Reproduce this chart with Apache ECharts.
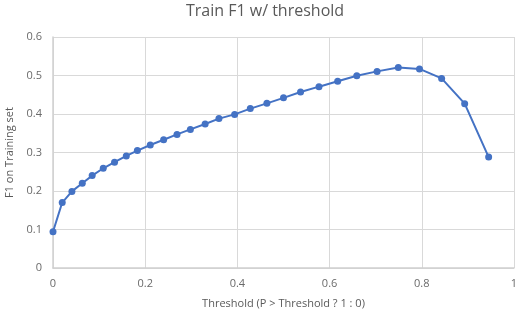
<!DOCTYPE html>
<html><head><meta charset="utf-8">
<script src="https://cdn.jsdelivr.net/npm/echarts@6/dist/echarts.min.js"></script>
<style>html,body{margin:0;padding:0;background:#fff}#c{width:516px;height:312px}</style>
</head><body><div id="c"></div>
<script>
const thresholds = [0, 0.02, 0.041, 0.0635, 0.085, 0.109, 0.1335, 0.159, 0.183, 0.211, 0.24, 0.269, 0.298, 0.33, 0.36, 0.394, 0.428, 0.464, 0.5, 0.537, 0.577, 0.6175, 0.659, 0.703, 0.749, 0.795, 0.843, 0.893, 0.945];
const f1Values = [0.094, 0.170, 0.199, 0.220, 0.240, 0.259, 0.275, 0.291, 0.305, 0.3195, 0.333, 0.347, 0.360, 0.374, 0.388, 0.399, 0.414, 0.4276, 0.442, 0.457, 0.471, 0.485, 0.4995, 0.5107, 0.521, 0.517, 0.4925, 0.4268, 0.288];
const titleText = 'Train F1 w/ threshold';
const xName = 'Threshold (P > Threshold ? 1 : 0)';
const yName = 'F1 on Training set';

const chart = echarts.init(document.getElementById('c'), null, {renderer:'canvas'});
const font = '"Open Sans", "DejaVu Sans", sans-serif';
chart.setOption({
  animation:false,
  title:{text:titleText,left:260,textAlign:'center',top:-2,textStyle:{fontFamily:font,fontSize:16,fontWeight:'normal',color:'#595959'}},
  grid:{left:53,right:2,top:37,bottom:44,outerBoundsMode:'none',containLabel:false},
  xAxis:{type:'value',min:0,max:1,interval:0.2,name:xName,nameLocation:'middle',nameGap:30,
    nameTextStyle:{fontFamily:font,fontSize:11,color:'#595959'},
    axisLine:{show:true,lineStyle:{color:'#d0d0d0',width:1.5}},axisTick:{show:false},
    axisLabel:{fontFamily:font,fontSize:11,color:'#6a6a6a',margin:10,formatter:v=>String(+v.toFixed(1))},
    splitLine:{show:true,lineStyle:{color:'#d9d9d9',width:1}}},
  yAxis:{type:'value',min:0,max:0.6,interval:0.1,name:yName,nameLocation:'middle',nameGap:35,
    nameTextStyle:{fontFamily:font,fontSize:11,color:'#595959'},
    axisLine:{show:true,lineStyle:{color:'#d0d0d0',width:1.5}},axisTick:{show:false},
    axisLabel:{fontFamily:font,fontSize:11,color:'#6a6a6a',margin:11,formatter:v=>String(+v.toFixed(1))},
    splitLine:{show:true,lineStyle:{color:'#d9d9d9',width:1}}},
  series:[{type:'line',data:thresholds.map((x,i)=>[x,f1Values[i]]),
    symbol:'circle',symbolSize:7,itemStyle:{color:'#4472C4'},lineStyle:{color:'#4472C4',width:2}}]
});
</script></body></html>
